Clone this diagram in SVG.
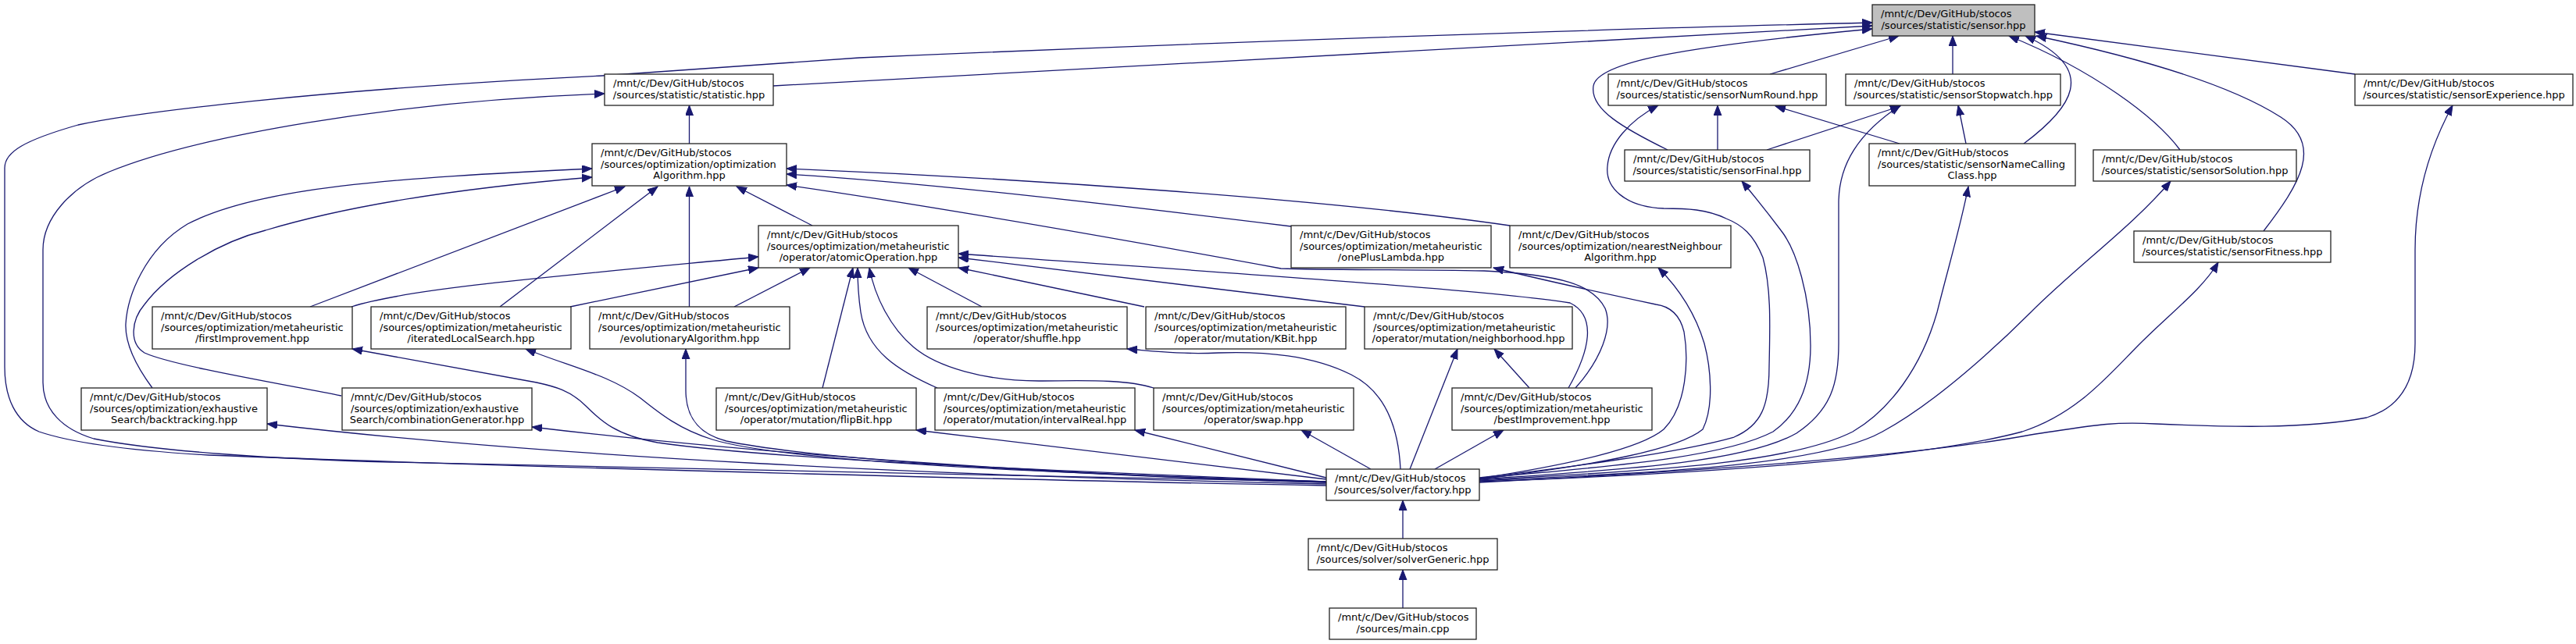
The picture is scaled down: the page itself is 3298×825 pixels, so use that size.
<svg xmlns="http://www.w3.org/2000/svg" width="3298" height="825" viewBox="0 0 3298 825">
<style>
.n rect{fill:#ffffff;stroke:#222222;stroke-width:1.3}
.n text{font-family:"DejaVu Sans","Liberation Sans",sans-serif;font-size:13px;fill:#000000}
.m{text-anchor:middle}
#edges path{fill:none;stroke:#191970;stroke-width:1.3;marker-end:url(#ah)}
</style>
<defs>
<marker id="ah" markerUnits="userSpaceOnUse" markerWidth="14" markerHeight="11" refX="13" refY="5" orient="auto">
<path d="M0,0 L13,5 L0,10 z" fill="#191970" stroke="#191970" stroke-width="1"/>
</marker>
</defs>
<rect width="3298" height="825" fill="#ffffff"/>
<g id="edges">
<path d="M990,110 L2397,33"/>
<path d="M1698,622 C1400,617 700,600 267,583 C180,578 100,570 50,553 C20,540 6,510 6,470 L6,215 C6,195 30,180 100,160 C170,145 400,115 771,97 C900,88 1000,80 1100,74 C1600,52 2100,36 2397,29"/>
<path d="M1698,617 C1300,610 800,598 500,592 C350,588 200,578 120,562 C80,550 55,525 55,490 L55,320 C55,280 90,240 140,220 C250,175 500,130 774,120"/>
<path d="M2266,95 L2431,46"/>
<path d="M2500,95 L2500,46"/>
<path d="M3015,95 L2605,41"/>
<path d="M2591,184 C2650,140 2690,90 2593,46"/>
<path d="M2791,192 C2760,150 2680,90 2572,46"/>
<path d="M2898,296 C2945,235 2975,185 2920,150 C2850,105 2720,70 2607,46"/>
<path d="M2135,192 C2080,165 2035,140 2040,110 C2045,80 2150,60 2397,37"/>
<path d="M2199,192 L2199,135"/>
<path d="M2262,192 L2433,136"/>
<path d="M2432,184 L2273,136"/>
<path d="M2517,184 L2507,135"/>
<path d="M882.5,184 L882.5,135"/>
<path d="M195,497 C175,470 160,440 161,415 C163,380 185,320 240,287 C330,240 500,228 758,216"/>
<path d="M437,507 C350,490 220,468 185,452 C165,440 168,410 185,390 C215,350 280,310 340,295 C450,262 600,240 758,227"/>
<path d="M397,393 L800,239"/>
<path d="M640,393 L842,239"/>
<path d="M882.5,393 L882.5,239"/>
<path d="M1040,289 L943,239"/>
<path d="M1653,290 C1450,265 1200,235 1007,223"/>
<path d="M1933,289 C1700,255 1300,228 1007,216"/>
<path d="M2017,497 C2050,460 2065,420 2055,395 C2040,365 2000,352 1900,347 C1800,345 1700,346 1640,344 C1400,300 1200,265 1007,237"/>
<path d="M2008,497 C2035,450 2045,405 2010,388 C1900,370 1500,345 1227,325"/>
<path d="M450,393 C520,370 700,355 971,329"/>
<path d="M730,393 L971,343"/>
<path d="M940,393 L1037,343"/>
<path d="M1053,497 L1092,343"/>
<path d="M1200,497 C1150,475 1110,450 1102,400 C1099,380 1098,360 1098,343"/>
<path d="M1477,497 C1440,485 1380,488 1330,488 C1260,488 1200,470 1170,445 C1140,420 1120,380 1113,343"/>
<path d="M1257,393 L1163,343"/>
<path d="M1465,393 L1227,343"/>
<path d="M1747,393 L1227,330"/>
<path d="M1958,497 L1913,447"/>
<path d="M1755,601 L1666,551"/>
<path d="M1805,601 L1866,447"/>
<path d="M1837,601 L1925,551"/>
<path d="M1793,601 C1790,540 1770,500 1730,480 C1680,455 1620,450 1560,452 C1510,454 1480,450 1443,447"/>
<path d="M1698,612 L1453,551"/>
<path d="M1698,614 L1173,551"/>
<path d="M1698,620 C1200,610 700,585 342,543"/>
<path d="M1698,618 C1400,610 1000,585 681,547"/>
<path d="M1698,617 C1400,605 1000,590 842,567 C790,558 770,540 750,520 C730,500 710,495 687,490 L451,447"/>
<path d="M1698,617 C1300,605 1000,590 912,563 C870,550 845,530 820,510 C780,480 730,470 673,447"/>
<path d="M1698,618 C1400,610 1050,590 930,565 C890,555 878,530 878,500 L878,447"/>
<path d="M1894,613 C2010,595 2100,575 2130,550 C2160,520 2162,460 2156,425 C2150,400 2135,392 2120,390 C2050,375 1960,355 1912,343"/>
<path d="M1894,614 C2050,595 2150,575 2180,550 C2195,520 2190,470 2182,440 C2170,400 2150,370 2123,343"/>
<path d="M1894,612 C2000,600 2150,580 2220,560 C2255,545 2265,520 2265,470 C2266,420 2268,370 2257,330 C2245,300 2230,288 2210,280 C2185,268 2160,267 2130,267 C2080,265 2055,240 2058,213 C2060,185 2085,155 2123,135"/>
<path d="M1894,613 C2020,600 2200,590 2270,553 C2310,525 2318,480 2318,443 C2318,380 2300,320 2280,295 C2265,275 2245,250 2230,232"/>
<path d="M1894,614 C2050,603 2230,595 2300,555 C2345,525 2354,490 2354,440 L2354,260 C2354,210 2380,170 2433,135"/>
<path d="M1894,615 C2050,605 2280,600 2372,553 C2420,525 2460,470 2480,400 C2495,340 2510,290 2520,239"/>
<path d="M1894,616 C2100,606 2330,598 2410,553 C2480,515 2560,440 2600,400 C2660,340 2730,290 2779,232"/>
<path d="M1894,617 C2150,608 2450,590 2589,553 C2660,530 2700,480 2740,440 C2780,400 2820,370 2840,336"/>
<path d="M1894,618 C2150,605 2450,585 2600,557 C2680,545 2700,540 2760,543 C2850,547 2950,550 3030,535 C3080,520 3092,480 3092,440 L3092,320 C3092,250 3110,190 3140,135"/>
<path d="M1796,690 L1796,641"/>
<path d="M1796,779 L1796,730"/>
</g>
<g id="n_sensor" class="n"><rect x="2397" y="6" width="208" height="40" style="fill:#bfbfbf"/><text x="2408" y="22">/mnt/c/Dev/GitHub/stocos</text><text class="m" x="2501" y="37">/sources/statistic/sensor.hpp</text></g>
<g id="n_statistic" class="n"><rect x="774" y="95" width="216" height="40"/><text x="785" y="111">/mnt/c/Dev/GitHub/stocos</text><text class="m" x="882" y="126">/sources/statistic/statistic.hpp</text></g>
<g id="n_sensorNumRound" class="n"><rect x="2059" y="95" width="279" height="40"/><text x="2070" y="111">/mnt/c/Dev/GitHub/stocos</text><text class="m" x="2198.5" y="126">/sources/statistic/sensorNumRound.hpp</text></g>
<g id="n_sensorStopwatch" class="n"><rect x="2363" y="95" width="275" height="40"/><text x="2374" y="111">/mnt/c/Dev/GitHub/stocos</text><text class="m" x="2500.5" y="126">/sources/statistic/sensorStopwatch.hpp</text></g>
<g id="n_sensorExperience" class="n"><rect x="3015" y="95" width="279" height="40"/><text x="3026" y="111">/mnt/c/Dev/GitHub/stocos</text><text class="m" x="3154.5" y="126">/sources/statistic/sensorExperience.hpp</text></g>
<g id="n_optimizationAlgorithm" class="n"><rect x="758" y="184" width="249" height="54"/><text x="769" y="200">/mnt/c/Dev/GitHub/stocos</text><text x="769" y="214.5">/sources/optimization/optimization</text><text class="m" x="882.5" y="229">Algorithm.hpp</text></g>
<g id="n_sensorFinal" class="n"><rect x="2080" y="192" width="237" height="40"/><text x="2091" y="208">/mnt/c/Dev/GitHub/stocos</text><text class="m" x="2198.5" y="223">/sources/statistic/sensorFinal.hpp</text></g>
<g id="n_sensorNameCallingClass" class="n"><rect x="2393" y="184" width="264" height="54"/><text x="2404" y="200">/mnt/c/Dev/GitHub/stocos</text><text x="2404" y="214.5">/sources/statistic/sensorNameCalling</text><text class="m" x="2525" y="229">Class.hpp</text></g>
<g id="n_sensorSolution" class="n"><rect x="2680" y="192" width="260" height="40"/><text x="2691" y="208">/mnt/c/Dev/GitHub/stocos</text><text class="m" x="2810" y="223">/sources/statistic/sensorSolution.hpp</text></g>
<g id="n_atomicOperation" class="n"><rect x="971" y="289" width="256" height="54"/><text x="982" y="305">/mnt/c/Dev/GitHub/stocos</text><text x="982" y="319.5">/sources/optimization/metaheuristic</text><text class="m" x="1099" y="334">/operator/atomicOperation.hpp</text></g>
<g id="n_onePlusLambda" class="n"><rect x="1653" y="289" width="256" height="54"/><text x="1664" y="305">/mnt/c/Dev/GitHub/stocos</text><text x="1664" y="319.5">/sources/optimization/metaheuristic</text><text class="m" x="1781" y="334">/onePlusLambda.hpp</text></g>
<g id="n_nearestNeighbourAlgorithm" class="n"><rect x="1933" y="289" width="283" height="54"/><text x="1944" y="305">/mnt/c/Dev/GitHub/stocos</text><text x="1944" y="319.5">/sources/optimization/nearestNeighbour</text><text class="m" x="2074.5" y="334">Algorithm.hpp</text></g>
<g id="n_sensorFitness" class="n"><rect x="2732" y="296" width="252" height="40"/><text x="2743" y="312">/mnt/c/Dev/GitHub/stocos</text><text class="m" x="2858" y="327">/sources/statistic/sensorFitness.hpp</text></g>
<g id="n_firstImprovement" class="n"><rect x="195" y="393" width="256" height="54"/><text x="206" y="409">/mnt/c/Dev/GitHub/stocos</text><text x="206" y="423.5">/sources/optimization/metaheuristic</text><text class="m" x="323" y="438">/firstImprovement.hpp</text></g>
<g id="n_iteratedLocalSearch" class="n"><rect x="475" y="393" width="256" height="54"/><text x="486" y="409">/mnt/c/Dev/GitHub/stocos</text><text x="486" y="423.5">/sources/optimization/metaheuristic</text><text class="m" x="603" y="438">/iteratedLocalSearch.hpp</text></g>
<g id="n_evolutionaryAlgorithm" class="n"><rect x="755" y="393" width="256" height="54"/><text x="766" y="409">/mnt/c/Dev/GitHub/stocos</text><text x="766" y="423.5">/sources/optimization/metaheuristic</text><text class="m" x="883" y="438">/evolutionaryAlgorithm.hpp</text></g>
<g id="n_shuffle" class="n"><rect x="1187" y="393" width="256" height="54"/><text x="1198" y="409">/mnt/c/Dev/GitHub/stocos</text><text x="1198" y="423.5">/sources/optimization/metaheuristic</text><text class="m" x="1315" y="438">/operator/shuffle.hpp</text></g>
<g id="n_KBit" class="n"><rect x="1467" y="393" width="256" height="54"/><text x="1478" y="409">/mnt/c/Dev/GitHub/stocos</text><text x="1478" y="423.5">/sources/optimization/metaheuristic</text><text class="m" x="1595" y="438">/operator/mutation/KBit.hpp</text></g>
<g id="n_neighborhood" class="n"><rect x="1747" y="393" width="266" height="54"/><text x="1758" y="409">/mnt/c/Dev/GitHub/stocos</text><text x="1758" y="423.5">/sources/optimization/metaheuristic</text><text class="m" x="1880" y="438">/operator/mutation/neighborhood.hpp</text></g>
<g id="n_backtracking" class="n"><rect x="104" y="497" width="238" height="54"/><text x="115" y="513">/mnt/c/Dev/GitHub/stocos</text><text x="115" y="527.5">/sources/optimization/exhaustive</text><text class="m" x="223" y="542">Search/backtracking.hpp</text></g>
<g id="n_combinationGenerator" class="n"><rect x="438" y="497" width="243" height="54"/><text x="449" y="513">/mnt/c/Dev/GitHub/stocos</text><text x="449" y="527.5">/sources/optimization/exhaustive</text><text class="m" x="559.5" y="542">Search/combinationGenerator.hpp</text></g>
<g id="n_flipBit" class="n"><rect x="917" y="497" width="256" height="54"/><text x="928" y="513">/mnt/c/Dev/GitHub/stocos</text><text x="928" y="527.5">/sources/optimization/metaheuristic</text><text class="m" x="1045" y="542">/operator/mutation/flipBit.hpp</text></g>
<g id="n_intervalReal" class="n"><rect x="1197" y="497" width="256" height="54"/><text x="1208" y="513">/mnt/c/Dev/GitHub/stocos</text><text x="1208" y="527.5">/sources/optimization/metaheuristic</text><text class="m" x="1325" y="542">/operator/mutation/intervalReal.hpp</text></g>
<g id="n_swap" class="n"><rect x="1477" y="497" width="256" height="54"/><text x="1488" y="513">/mnt/c/Dev/GitHub/stocos</text><text x="1488" y="527.5">/sources/optimization/metaheuristic</text><text class="m" x="1605" y="542">/operator/swap.hpp</text></g>
<g id="n_bestImprovement" class="n"><rect x="1859" y="497" width="256" height="54"/><text x="1870" y="513">/mnt/c/Dev/GitHub/stocos</text><text x="1870" y="527.5">/sources/optimization/metaheuristic</text><text class="m" x="1987" y="542">/bestImprovement.hpp</text></g>
<g id="n_factory" class="n"><rect x="1698" y="601" width="196" height="40"/><text x="1709" y="617">/mnt/c/Dev/GitHub/stocos</text><text class="m" x="1796" y="632">/sources/solver/factory.hpp</text></g>
<g id="n_solverGeneric" class="n"><rect x="1675" y="690" width="242" height="40"/><text x="1686" y="706">/mnt/c/Dev/GitHub/stocos</text><text class="m" x="1796" y="721">/sources/solver/solverGeneric.hpp</text></g>
<g id="n_main" class="n"><rect x="1702" y="779" width="188" height="40"/><text x="1713" y="795">/mnt/c/Dev/GitHub/stocos</text><text class="m" x="1796" y="810">/sources/main.cpp</text></g>
</svg>
